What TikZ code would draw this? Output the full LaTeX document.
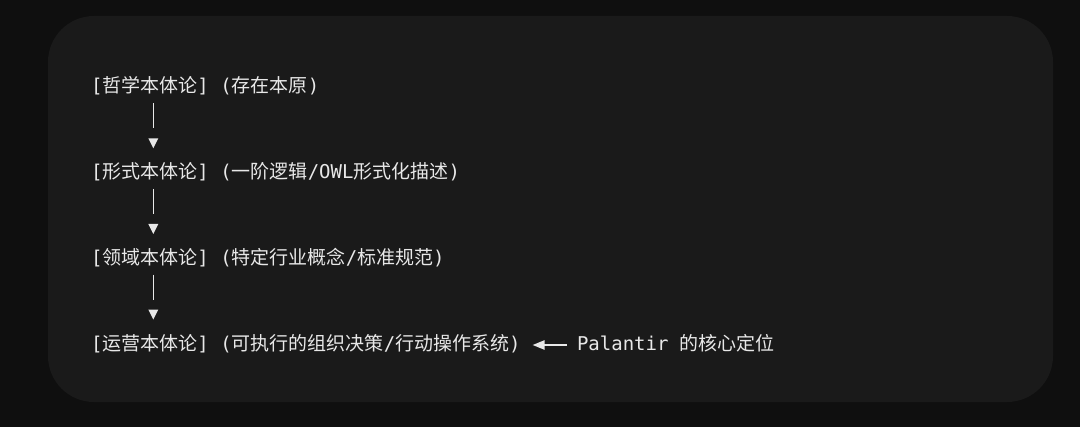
\documentclass[tikz,border=0pt]{standalone}
\usepackage{fontspec}
\setmonofont{DejaVu Sans Mono}
\newfontfamily\cjk{Noto Sans CJK SC}
\usetikzlibrary{arrows.meta,calc}
\definecolor{outerbg}{HTML}{0F0F0F}
\definecolor{panel}{HTML}{1A1A1A}
\definecolor{ink}{HTML}{E8E8E8}
\begin{document}
\begin{tikzpicture}[x=0.75pt,y=-0.75pt,
  textline/.style={anchor=base west, inner sep=0pt, outer sep=0pt, text=ink,
    font=\ttfamily\fontsize{14.25pt}{17pt}\selectfont},
  bar/.style={draw=ink, line width=1.2pt},
  tri/.style={fill=ink},
  sidearrow/.style={draw=ink, line width=1.1pt, -{Triangle[length=9pt,width=7pt]}}
  ]
\useasboundingbox (0,0) rectangle (1080,427);
\fill[outerbg] (0,0) rectangle (1080,427);
\fill[panel, rounded corners=34.5pt] (48,16) rectangle (1053,402);

\node[textline] (l1) at (91,93) {[{\cjk 哲学本体论}] ({\cjk 存在本原})};
\node[textline] (l2) at (91,178.67) {[{\cjk 形式本体论}] ({\cjk 一阶逻辑}/OWL{\cjk 形式化描述})};
\node[textline] (l3) at (91,264.33) {[{\cjk 领域本体论}] ({\cjk 特定行业概念}/{\cjk 标准规范})};
\node[textline] (l4) at (91,350) {[{\cjk 运营本体论}] ({\cjk 可执行的组织决策}/{\cjk 行动操作系统})};
\node[textline] (pal) at (577,350) {Palantir {\cjk 的核心定位}};

\foreach \a/\b in {l1/l2,l2/l3,l3/l4}{
  \draw[bar] ($(\a.base west)+(62.3,10.3)$) -- ($(\a.base west)+(62.3,35.3)$);
  \fill[tri] ($(\b.base west)+(57.3,-40.4)$) -- ($(\b.base west)+(67.3,-40.4)$)
     -- ($(\b.base west)+(62.3,-30.4)$) -- cycle;
}
\draw[sidearrow] ($(pal.base west)+(-10,-5)$) -- ($(l4.base east)+(12,-5)$);
\end{tikzpicture}
\end{document}
